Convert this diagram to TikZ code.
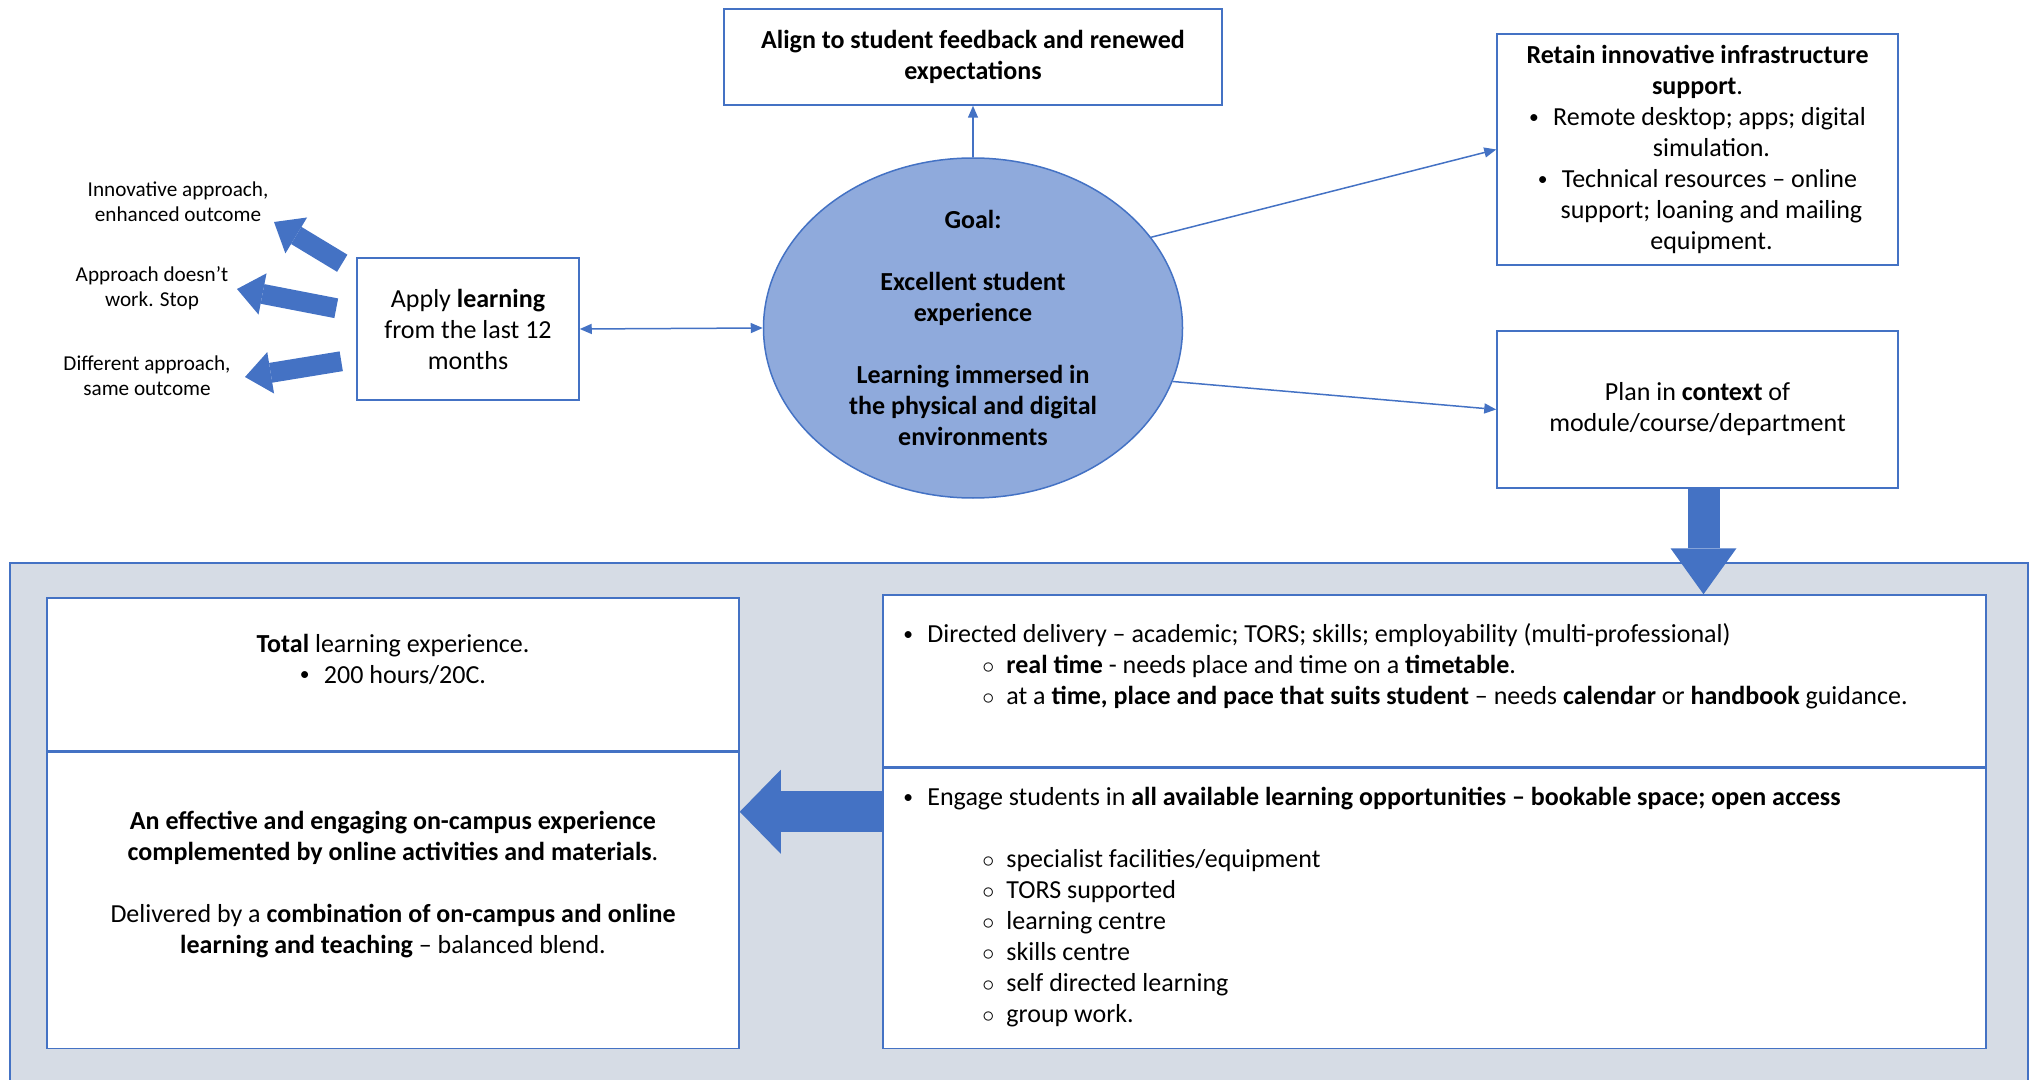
\documentclass[tikz,border=0pt]{standalone}
\usepackage{fontspec}
\setmainfont{Carlito}
\usepackage{tikz}
\usetikzlibrary{shapes.geometric, arrows.meta, calc}

\definecolor{wordblue}{HTML}{4472C4}
\definecolor{goalfill}{HTML}{8FAADC}
\definecolor{panelgray}{HTML}{D6DCE5}

\newcommand{\dotbullet}{\makebox[12pt][l]{\raisebox{0.08em}{\scalebox{0.75}{\textbullet}}}}
\newcommand{\ringbullet}{\hspace*{39.5pt}\makebox[12pt][l]{$\circ$}}

\tikzset{
  box/.style={draw=wordblue, line width=0.75pt, fill=white, inner sep=0pt},
  bodytext/.style={align=center, font=\fontsize{13}{15.5}\selectfont},
  boldtext/.style={align=center, font=\fontsize{13}{15.5}\selectfont\bfseries},
  smalltext/.style={align=center, font=\fontsize{10.6}{12.7}\selectfont},
  thinarrow/.style={draw=wordblue, line width=0.75pt, -{Triangle[length=6pt, width=5pt]}},
  thinboth/.style={draw=wordblue, line width=0.75pt, {Triangle[length=6pt, width=5pt]}-{Triangle[length=6pt, width=5pt]}},
  smallfat/.style={draw=wordblue, line width=10pt, -{Triangle[length=13pt, width=21pt, line width=0pt]}},
  bigfat/.style={draw=wordblue, line width=16pt, -{Triangle[length=23pt, width=33pt, line width=0pt]}},
  widefat/.style={draw=wordblue, line width=20.5pt, -{Triangle[length=20.5pt, width=42pt, line width=0pt]}}
}

\begin{document}
\begin{tikzpicture}[x=0.5pt, y=-0.5pt]
    \useasboundingbox (0,0) rectangle (2034,1080);

    % Panel behind the lower boxes
    \fill[panelgray] (10,563) rectangle (2028,1080);
    \draw[wordblue, line width=0.75pt] (10,1080) -- (10,563) -- (2028,563) -- (2028,1080);

    % Goal
    \node[ellipse, draw=wordblue, fill=goalfill, line width=0.75pt, inner sep=0pt,
          minimum width=209.5pt, minimum height=170pt] (goal) at (973,328) {};
    \node[boldtext] (goaltext) at (goal.center) {Goal:\\[15.5pt]Excellent student\\experience\\[15.5pt]Learning immersed in\\the physical and digital\\environments};

    % Top box
    \node[box, boldtext, minimum width=249pt, minimum height=48pt] (align) at (973,57) {Align to student feedback and renewed\\expectations};

    % Apply learning
    \node[box, bodytext, minimum width=111pt, minimum height=71pt] (apply) at (468,329) {Apply \textbf{learning}\\from the last 12\\months};

    % Right boxes
    \node[box, bodytext, minimum width=200.5pt, minimum height=115.5pt] (retain) at (1697.5,149.5) {\textbf{Retain innovative infrastructure}\\\textbf{support}.\\\dotbullet Remote desktop; apps; digital\\\hspace*{14pt}simulation.\\\dotbullet Technical resources – online\\\hspace*{14pt}support; loaning and mailing\\\hspace*{14pt}equipment.};
    \node[box, bodytext, minimum width=200.5pt, minimum height=78.5pt] (plan) at (1697.5,409.5) {Plan in \textbf{context} of\\module/course/department};

    % Outcomes on the left
    \node[smalltext] (innov) at (178,202) {Innovative approach,\\enhanced outcome};
    \node[smalltext] (stop) at (152,288) {Approach doesn’t\\work. Stop};
    \node[smalltext] (diff) at (147,376) {Different approach,\\same outcome};
    \coordinate (innovtip) at (274,222);
    \coordinate (stoptip) at (237,289);
    \coordinate (difftip) at (245,377);

    % Total learning experience
    \node[box, minimum width=346pt, minimum height=76.5pt] (total) at (393,674.5) {};
    \node[box, minimum width=346pt, minimum height=148pt, anchor=north] (blend) at (total.south) {};
    \node[bodytext] (totaltext) at (393,659) {\textbf{Total} learning experience.\\\dotbullet 200 hours/20C.};
    \node[bodytext] (blendtext) at (393,884.5) {\textbf{An effective and engaging on-campus experience}\\\textbf{complemented by online activities and materials}.\\[15.5pt]Delivered by a \textbf{combination of on-campus and online}\\\textbf{learning and teaching} – balanced blend.};

    % Delivery boxes
    \node[box, minimum width=551.5pt, minimum height=86pt] (direct) at (1434.5,681) {};
    \node[box, minimum width=551.5pt, minimum height=140pt, anchor=north] (engage) at (direct.south) {};
    \node[bodytext, align=left, anchor=west, inner sep=0pt] (directtext) at (903,666.5) {\dotbullet Directed delivery – academic; TORS; skills; employability (multi-professional)\\
        \ringbullet\textbf{real time} - needs place and time on a \textbf{timetable}.\\
        \ringbullet at a \textbf{time, place and pace that suits student} – needs \textbf{calendar} or \textbf{handbook} guidance.};
    \node[bodytext, align=left, anchor=west, inner sep=0pt] (engagetext) at (903,907) {\dotbullet Engage students in \textbf{all available learning opportunities – bookable space; open access}\\[15.5pt]
        \ringbullet specialist facilities/equipment\\
        \ringbullet TORS supported\\
        \ringbullet learning centre\\
        \ringbullet skills centre\\
        \ringbullet self directed learning\\
        \ringbullet group work.};

    % Thin connectors
    \draw[thinarrow] (goal.north) -- (align.south);
    \draw[thinboth] (apply.east) -- (goal.west);
    \draw[thinarrow] (goal.27.5) -- (retain.west);
    \draw[thinarrow] (goal.-15.6) -- (plan.west);

    % Block arrows
    \draw[smallfat] ($(apply.north west)+(-14,6)$) -- (innovtip);
    \draw[smallfat] ($(apply.north west)+(-20,51)$) -- (stoptip);
    \draw[smallfat] ($(apply.north west)+(-15,104)$) -- (difftip);
    \draw[bigfat] ([xshift=3pt]plan.south) -- ([xshift=3pt]plan.south |- direct.north);
    \coordinate (engagein) at ($(engage.north west)+(0,44)$);
    \coordinate (blendin) at ($(blend.north east)+(0,60)$);
    \draw[widefat] (engagein) -- (blendin);
\end{tikzpicture}
\end{document}
